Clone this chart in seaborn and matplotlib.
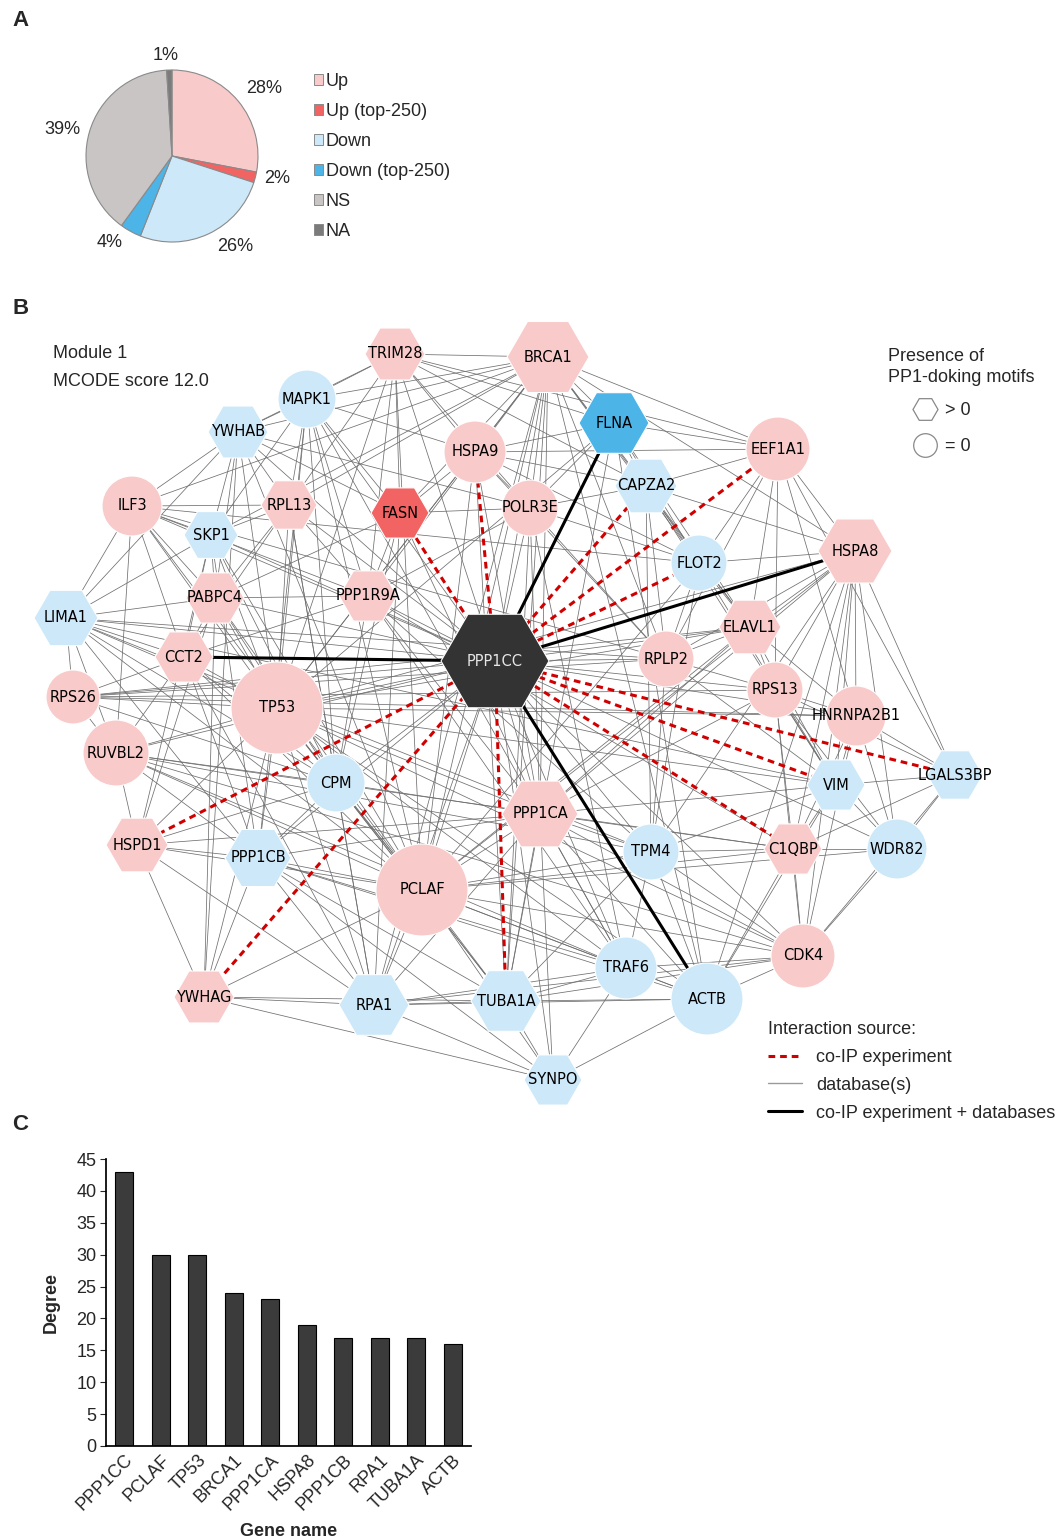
import numpy as np
import matplotlib
matplotlib.use("Agg")
import matplotlib.pyplot as plt
from matplotlib.patches import Circle, RegularPolygon, Patch
from matplotlib.lines import Line2D
from matplotlib.collections import LineCollection
import seaborn as sns

# ---------------- data ----------------
# A: regulation of the proteins
pie_labels = ["Up", "Up (top-250)", "Down", "Down (top-250)", "NS", "NA"]
pie_pct = [28, 2, 26, 4, 39, 1]

# C: degree of the top nodes
bar_genes = ["PPP1CC", "PCLAF", "TP53", "BRCA1", "PPP1CA",
             "HSPA8", "PPP1CB", "RPA1", "TUBA1A", "ACTB"]
bar_degree = [43, 30, 30, 24, 23, 19, 17, 17, 17, 16]

# B: network nodes
node_names = ["TRIM28", "BRCA1", "MAPK1", "FLNA", "YWHAB", "HSPA9", "EEF1A1",
              "CAPZA2", "ILF3", "RPL13", "FASN", "POLR3E", "SKP1", "FLOT2",
              "HSPA8", "PABPC4", "PPP1R9A", "LIMA1", "ELAVL1", "PPP1CC", "CCT2",
              "RPLP2", "RPS26", "RPS13", "TP53", "HNRNPA2B1", "RUVBL2", "CPM",
              "VIM", "LGALS3BP", "PPP1CA", "HSPD1", "PPP1CB", "TPM4", "C1QBP",
              "WDR82", "PCLAF", "CDK4", "TRAF6", "YWHAG", "ACTB", "RPA1",
              "TUBA1A", "SYNPO"]
node_group = ["Up", "Up", "Down", "Down (top-250)", "Down", "Up", "Up",
              "Down", "Up", "Up", "Up (top-250)", "Up", "Down", "Down",
              "Up", "Up", "Up", "Down", "Up", "bait", "Up",
              "Up", "Up", "Up", "Up", "Up", "Up", "Down",
              "Down", "Down", "Up", "Up", "Down", "Down", "Up",
              "Down", "Up", "Up", "Down", "Up", "Down", "Down",
              "Down", "Down"]
# PP1-docking motifs present (1 -> hexagon, 0 -> circle)
node_motif = [1, 1, 0, 1, 1, 0, 0,
              1, 0, 1, 1, 0, 1, 0,
              1, 1, 1, 1, 1, 1, 1,
              0, 0, 0, 0, 0, 0, 0,
              1, 1, 1, 1, 1, 0, 1,
              0, 0, 0, 0, 1, 0, 1,
              1, 1]

# edges from the co-IP with PPP1CC
coip_only = ["FASN", "HSPA9", "EEF1A1", "CAPZA2", "FLOT2", "HSPD1", "YWHAG",
             "TUBA1A", "C1QBP", "VIM", "LGALS3BP"]
coip_and_db = ["FLNA", "HSPA8", "CCT2", "ACTB"]

# database edges (node: neighbours)
db_text = """
PCLAF: TP53 BRCA1 PPP1CA HSPA8 PPP1CB RPA1 TUBA1A ACTB CDK4 TRAF6 YWHAG HSPD1 CPM RUVBL2 CCT2 PABPC4 LIMA1 SKP1 ILF3 YWHAB MAPK1 TRIM28 HSPA9 FLOT2 TPM4 C1QBP WDR82 SYNPO ELAVL1
TP53: BRCA1 PPP1CA HSPA8 PPP1CB RPA1 TUBA1A ACTB CDK4 TRAF6 YWHAG HSPD1 CPM RUVBL2 CCT2 PABPC4 LIMA1 SKP1 ILF3 YWHAB MAPK1 TRIM28 HSPA9 RPS26 ELAVL1 HNRNPA2B1 VIM RPL13 FLNA
BRCA1: PPP1CA HSPA8 RPA1 TUBA1A ACTB TRIM28 MAPK1 HSPA9 FASN POLR3E RPL13 YWHAB ILF3 PPP1R9A EEF1A1 CAPZA2 FLNA FLOT2 ELAVL1 RPLP2 SKP1
PPP1CA: HSPA8 PPP1CB RPA1 TUBA1A ACTB CPM TPM4 C1QBP TRAF6 CDK4 SYNPO HSPD1 VIM RPS13 ELAVL1 POLR3E FASN PPP1R9A HSPA9
HSPA8: EEF1A1 FLOT2 ELAVL1 RPS13 HNRNPA2B1 LGALS3BP VIM WDR82 C1QBP CDK4 TPM4 ACTB RPLP2 CAPZA2
PPP1CB: RPA1 TUBA1A ACTB YWHAG HSPD1 CPM LIMA1 CCT2 RUVBL2 SKP1 MAPK1 SYNPO TRAF6
RPA1: TUBA1A ACTB SYNPO YWHAG CPM HSPD1 TRAF6 CDK4 RPL13 FASN CCT2
TUBA1A: ACTB SYNPO TRAF6 TPM4 CDK4 YWHAG CPM HSPA9 FLNA POLR3E
ACTB: SYNPO TRAF6 CDK4 TPM4 FLNA VIM C1QBP
TRIM28: MAPK1 HSPA9 YWHAB RPL13 FASN POLR3E EEF1A1 FLNA CAPZA2 PPP1R9A
MAPK1: YWHAB HSPA9 RPL13 SKP1 FASN PPP1R9A CPM TRAF6
FLNA: HSPA9 CAPZA2 EEF1A1 FLOT2 ELAVL1 POLR3E
YWHAB: ILF3 RPL13 SKP1 PABPC4 LIMA1 FASN POLR3E YWHAG
HSPA9: POLR3E FASN CAPZA2 EEF1A1 RPLP2 FLOT2
EEF1A1: CAPZA2 FLOT2 ELAVL1 RPLP2 RPS13 HNRNPA2B1 LGALS3BP
CAPZA2: FLOT2 POLR3E ELAVL1 RPLP2 VIM TPM4
ILF3: SKP1 RPL13 PABPC4 LIMA1 CCT2 RUVBL2 PPP1R9A FLOT2 RPLP2
RPL13: SKP1 PABPC4 PPP1R9A CPM CCT2
FASN: POLR3E PPP1R9A CPM PABPC4
POLR3E: PPP1R9A FLOT2 RPLP2 TRAF6
SKP1: PABPC4 LIMA1 CCT2 HSPD1 CPM
FLOT2: ELAVL1 RPLP2 TPM4 VIM
PABPC4: LIMA1 CCT2 PPP1R9A CPM HSPD1 YWHAG
PPP1R9A: CCT2 CPM TPM4 TRAF6 C1QBP
LIMA1: CCT2 RPS26 RUVBL2 CPM TPM4 VIM RPLP2
ELAVL1: RPLP2 RPS13 HNRNPA2B1 VIM
CCT2: RPS26 RUVBL2 CPM
RPLP2: RPS13 TPM4 VIM
RPS26: RUVBL2 CPM RPLP2 RPS13 HNRNPA2B1 ELAVL1
RPS13: HNRNPA2B1 VIM LGALS3BP WDR82 C1QBP CDK4
HNRNPA2B1: VIM LGALS3BP WDR82 C1QBP CDK4
RUVBL2: CPM HSPD1 TPM4 C1QBP TRAF6 CDK4
CPM: HSPD1
VIM: LGALS3BP WDR82 C1QBP TPM4
LGALS3BP: WDR82 CDK4 C1QBP
HSPD1: YWHAG
TPM4: C1QBP TRAF6 CDK4
C1QBP: WDR82 CDK4
WDR82: CDK4
CDK4: TRAF6
TRAF6: SYNPO
YWHAG: SYNPO
"""

# ---------------- layout / style ----------------
# node centre (pixels) and width of the glyph
layout = {
    "TRIM28": (395, 354, 60), "BRCA1": (548, 357, 82), "MAPK1": (307, 399, 58),
    "FLNA": (614, 423, 70), "YWHAB": (238, 432, 60), "HSPA9": (475, 452, 62),
    "EEF1A1": (778, 449, 64), "CAPZA2": (646, 486, 62), "ILF3": (132, 506, 60),
    "RPL13": (289, 505, 56), "FASN": (400, 513, 58), "POLR3E": (530, 508, 56),
    "SKP1": (211, 535, 54), "FLOT2": (699, 563, 56), "HSPA8": (855, 551, 74),
    "PABPC4": (215, 598, 58), "PPP1R9A": (368, 596, 58), "LIMA1": (66, 618, 64),
    "ELAVL1": (750, 627, 62), "PPP1CC": (495, 661, 108), "CCT2": (184, 657, 58),
    "RPLP2": (666, 659, 56), "RPS26": (73, 697, 54), "RPS13": (775, 690, 56),
    "TP53": (277, 708, 92), "HNRNPA2B1": (856, 716, 60), "RUVBL2": (116, 753, 66),
    "CPM": (336, 783, 58), "VIM": (836, 785, 58), "LGALS3BP": (955, 775, 56),
    "PPP1CA": (540, 814, 76), "HSPD1": (137, 845, 62), "PPP1CB": (258, 858, 66),
    "TPM4": (651, 852, 56), "C1QBP": (793, 849, 58), "WDR82": (897, 849, 60),
    "PCLAF": (422, 890, 92), "CDK4": (803, 956, 64), "TRAF6": (626, 968, 62),
    "YWHAG": (204, 997, 60), "ACTB": (707, 999, 72), "RPA1": (374, 1005, 70),
    "TUBA1A": (506, 1001, 70), "SYNPO": (553, 1080, 58),
}
# pie label positions (pie radius units)
pie_label_xy = [(1.07, 0.79), (1.22, -0.26), (0.73, -1.05),
                (-0.73, -1.01), (-1.28, 0.31), (-0.07, 1.17)]

group_colors = {
    "Up": "#f9caca", "Up (top-250)": "#f26464", "Down": "#cde8f8",
    "Down (top-250)": "#4db4e8", "NS": "#c9c5c5", "NA": "#7b7b7b",
    "bait": "#333333",
}

W, H = 1061, 1540
FS = 13
sns.set_theme(style="ticks")
plt.rcParams["font.family"] = ["Liberation Sans", "DejaVu Sans"]

fig = plt.figure(figsize=(W / 100, H / 100), dpi=100)

# full-figure axes in pixel units for the network and panel letters
ax = fig.add_axes([0, 0, 1, 1])
ax.set_xlim(0, W)
ax.set_ylim(H, 0)
ax.axis("off")

for letter, y in [("A", 20), ("B", 308), ("C", 1125)]:
    ax.text(12, y, letter, fontsize=16, fontweight="bold", va="center")

# ---------------- B: network ----------------
pos = {n: (layout[n][0], layout[n][1]) for n in node_names}

special = set(coip_only) | set(coip_and_db)
seen = set()
db_edges = []
for line in db_text.strip().splitlines():
    src, rest = line.split(":")
    for dst in rest.split():
        key = frozenset((src.strip(), dst))
        if key not in seen:
            seen.add(key)
            db_edges.append((src.strip(), dst))
for n in node_names:
    if n != "PPP1CC" and n not in special:
        db_edges.append(("PPP1CC", n))

segs = [[pos[a], pos[b]] for a, b in db_edges]
ax.add_collection(LineCollection(segs, colors="#6f6f6f", linewidths=0.55, zorder=1))

for n in coip_only:
    (x0, y0), (x1, y1) = pos["PPP1CC"], pos[n]
    ax.plot([x0, x1], [y0, y1], color="#d10000", lw=2.2,
            linestyle=(0, (2.2, 1.6)), zorder=2)
for n in coip_and_db:
    (x0, y0), (x1, y1) = pos["PPP1CC"], pos[n]
    ax.plot([x0, x1], [y0, y1], color="black", lw=2.2, zorder=2)

for n, grp, motif in zip(node_names, node_group, node_motif):
    x, y, w = layout[n]
    col = group_colors[grp]
    if motif:
        patch = RegularPolygon((x, y), numVertices=6, radius=w / 2,
                               orientation=np.pi / 6, facecolor=col,
                               edgecolor="white", lw=0.8, zorder=3)
    else:
        patch = Circle((x, y), w / 2, facecolor=col, edgecolor="white",
                       lw=0.8, zorder=3)
    ax.add_patch(patch)
    ax.text(x, y, n, ha="center", va="center", fontsize=10.5,
            family="DejaVu Sans", zorder=4,
            color="#e6e6e6" if grp == "bait" else "black")

ax.text(53, 354, "Module 1", fontsize=FS, va="center")
ax.text(53, 381, "MCODE score 12.0", fontsize=FS, va="center")

ax.text(888, 367, "Presence of\nPP1-doking motifs", fontsize=FS, va="center",
        linespacing=1.25)
motif_handles = [
    Line2D([], [], ls="none", marker="H", markersize=18, markerfacecolor="white",
           markeredgecolor="#888888", markeredgewidth=0.9),
    Line2D([], [], ls="none", marker="o", markersize=17, markerfacecolor="white",
           markeredgecolor="#888888", markeredgewidth=0.9),
]
fig.legend(motif_handles, ["> 0", "= 0"], loc="upper left",
           bbox_to_anchor=(914 / W, 1 - 402 / H), frameon=False, fontsize=FS,
           borderpad=0, borderaxespad=0, handlelength=1.2, handletextpad=0.5,
           labelspacing=1.05)

edge_handles = [
    Line2D([], [], color="#d10000", lw=2.2, linestyle=(0, (2.2, 1.6))),
    Line2D([], [], color="#9a9a9a", lw=1.0),
    Line2D([], [], color="black", lw=2.2),
]
fig.legend(edge_handles, ["co-IP experiment", "database(s)",
                          "co-IP experiment + databases"],
           loc="upper left", bbox_to_anchor=(768 / W, 1 - 1021 / H),
           frameon=False, fontsize=FS, title="Interaction source:",
           title_fontsize=FS, alignment="left", borderpad=0,
           borderaxespad=0, handlelength=1.9, handletextpad=0.75,
           labelspacing=0.6)

# ---------------- A: pie ----------------
cx, cy, r = 172, 156, 86
ax_pie = fig.add_axes([(cx - r) / W, 1 - (cy + r) / H, 2 * r / W, 2 * r / H])
wedges, texts, autotexts = ax_pie.pie(
    pie_pct, colors=[group_colors[g] for g in pie_labels], startangle=90,
    counterclock=False, autopct=lambda p: f"{p:.0f}%",
    wedgeprops=dict(edgecolor="#8a8a8a", linewidth=0.8),
    textprops=dict(fontsize=FS))
for t, xy in zip(autotexts, pie_label_xy):
    t.set_position(xy)
    t.set_ha("center")
    t.set_va("center")
ax_pie.set_xlim(-1, 1)
ax_pie.set_ylim(-1, 1)

pie_handles = [Patch(facecolor=group_colors[g], edgecolor="#8a8a8a", lw=0.7)
               for g in pie_labels]
fig.legend(pie_handles, pie_labels, loc="upper left",
           bbox_to_anchor=(314 / W, 1 - 73 / H), frameon=False, fontsize=FS,
           borderpad=0, borderaxespad=0, handlelength=0.5, handleheight=0.5,
           handletextpad=0.15, labelspacing=0.72)

# ---------------- C: bar chart ----------------
ax_bar = fig.add_axes([106 / W, 1 - 1446 / H, (471 - 106) / W, (1446 - 1159) / H])
sns.barplot(x=bar_genes, y=bar_degree, color="#3b3b3b", saturation=1,
            edgecolor="black", linewidth=0.8, width=0.5, ax=ax_bar)
ax_bar.set_ylim(0, 45)
ax_bar.set_yticks(range(0, 46, 5))
ax_bar.set_xlim(-0.5, 9.5)
sns.despine(ax=ax_bar)
ax_bar.spines["left"].set_color("black")
ax_bar.spines["bottom"].set_color("black")
ax_bar.tick_params(axis="x", length=0, labelsize=FS, pad=4)
ax_bar.tick_params(axis="y", length=4, width=0.8, labelsize=FS, pad=3)
ax_bar.set_xticks(range(len(bar_genes)))
ax_bar.set_xticklabels(bar_genes, rotation=45, ha="right", rotation_mode="anchor")
ax_bar.set_ylabel("Degree", fontsize=FS, fontweight="bold", labelpad=12)
ax_bar.set_xlabel("Gene name", fontsize=FS, fontweight="bold", labelpad=6)

fig.savefig("out.png", dpi=100)
